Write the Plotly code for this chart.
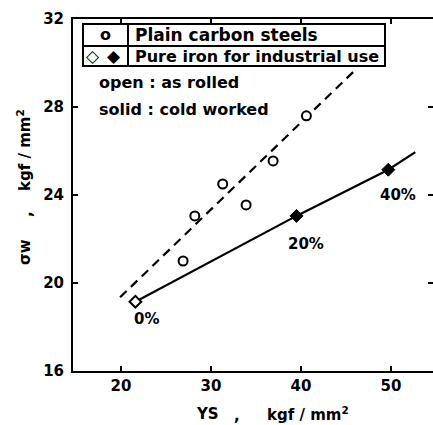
import plotly.graph_objects as go

# ---- data ----
carbon_ys = [26.9, 28.2, 31.3, 33.9, 36.9, 40.6]
carbon_sw = [21.0, 23.05, 24.5, 23.55, 25.55, 27.6]
carbon_fit_ys = [19.9, 46.2]
carbon_fit_sw = [19.35, 29.75]

iron_rolled_ys = [21.6]
iron_rolled_sw = [19.15]
iron_cold_ys = [39.5, 49.7]
iron_cold_sw = [23.05, 25.15]
iron_fit_ys = [21.6, 39.5, 49.7, 52.7]
iron_fit_sw = [19.15, 23.05, 25.15, 25.95]

pct_ys = [21.6, 39.5, 49.7]
pct_sw = [19.15, 23.05, 25.15]
pct_labels = ["0%", "20%", "40%"]

x_ticks = [20, 30, 40, 50]
y_ticks = [16, 20, 24, 28, 32]

W, H = 433, 425
L, R, T, B = 73, 0, 19, 54
PW, PH = W - L - R, H - T - B
FONT = "DejaVu Sans"
BLACK = "#000000"


def px(x):
    return (x - L) / PW


def py(y):
    return (H - B - y) / PH


fig = go.Figure()

fig.add_trace(go.Scatter(x=carbon_fit_ys, y=carbon_fit_sw, mode="lines",
                         line=dict(color=BLACK, width=2.2, dash="9px,6px"),
                         showlegend=False, hoverinfo="skip"))
fig.add_trace(go.Scatter(x=iron_fit_ys, y=iron_fit_sw, mode="lines",
                         line=dict(color=BLACK, width=2.2),
                         showlegend=False, hoverinfo="skip"))
fig.add_trace(go.Scatter(x=carbon_ys, y=carbon_sw, mode="markers",
                         marker=dict(symbol="circle", size=9, color="white",
                                     line=dict(color=BLACK, width=2)),
                         showlegend=False))
fig.add_trace(go.Scatter(x=iron_rolled_ys, y=iron_rolled_sw, mode="markers",
                         marker=dict(symbol="diamond", size=9, color="white",
                                     line=dict(color=BLACK, width=2)),
                         showlegend=False))
fig.add_trace(go.Scatter(x=iron_cold_ys, y=iron_cold_sw, mode="markers",
                         marker=dict(symbol="diamond", size=10, color=BLACK,
                                     line=dict(color=BLACK, width=1)),
                         showlegend=False))
# invisible trace to drive right-side ticks
fig.add_trace(go.Scatter(x=[None], y=[None], yaxis="y2", showlegend=False))

font = dict(family=FONT, size=15, color=BLACK, weight="bold")

annotations = []
shifts = [(11, -17), (9, -28), (10, -25)]
for xv, yv, lab, (dx, dy) in zip(pct_ys, pct_sw, pct_labels, shifts):
    annotations.append(dict(x=xv, y=yv, xref="x", yref="y", text=lab,
                            showarrow=False, xshift=dx, yshift=dy,
                            font=font, xanchor="center", yanchor="middle"))


def txt(x, y, s, xanchor="left", size=15, angle=0):
    annotations.append(dict(x=px(x), y=py(y), xref="paper", yref="paper",
                            text=s, showarrow=False, xanchor=xanchor,
                            yanchor="middle", textangle=angle,
                            font=dict(family=FONT, size=size, color=BLACK,
                                      weight="bold")))


# legend table text
txt(105, 35, "o", xanchor="center", size=16)
txt(93, 56, "◇", xanchor="center", size=17)
txt(114, 56, "◆", xanchor="center", size=17)
txt(133, 35, "Plain carbon steels", size=17)
txt(133, 56, "Pure iron for industrial use", size=16)
txt(97, 83, "open : as rolled", size=16)
txt(97, 109, "solid : cold worked", size=16)

# axis titles (pieces placed to match the reference spacing)
txt(207, 414, "YS", xanchor="center")
txt(237, 416, ",", xanchor="center")
txt(308, 414, "kgf / mm<sup>2</sup>", xanchor="center")
txt(25, 252, "σw", xanchor="center", angle=-90)
txt(27, 214, ",", xanchor="center", angle=-90)
txt(24, 150, "kgf / mm<sup>2</sup>", xanchor="center", angle=-90)

shapes = []
lw = dict(color=BLACK, width=2)
shapes.append(dict(type="rect", xref="paper", yref="paper",
                   x0=px(83), x1=px(385), y0=py(24), y1=py(66), line=lw))
shapes.append(dict(type="line", xref="paper", yref="paper",
                   x0=px(83), x1=px(385), y0=py(46), y1=py(46), line=lw))
shapes.append(dict(type="line", xref="paper", yref="paper",
                   x0=px(128), x1=px(128), y0=py(24), y1=py(66), line=lw))

x0 = 20 - (121 - L) / 9.0
x1 = x0 + PW / 9.0

fig.update_layout(
    width=W, height=H,
    margin=dict(l=L, r=R, t=T, b=B, pad=0),
    paper_bgcolor="white", plot_bgcolor="white",
    font=font,
    showlegend=False,
    annotations=annotations,
    shapes=shapes,
    xaxis=dict(range=[x0, x1], tickvals=x_ticks, ticks="inside", ticklen=5,
               tickwidth=2, tickcolor=BLACK, showline=True, linewidth=2,
               linecolor=BLACK, mirror="ticks", showgrid=False, zeroline=False,
               tickfont=font),
    yaxis=dict(range=[16, 32], tickvals=y_ticks, ticks="inside", ticklen=5,
               tickwidth=2, tickcolor=BLACK, showline=True, linewidth=2,
               linecolor=BLACK, showgrid=False, zeroline=False,
               tickfont=font, ticklabelstandoff=4),
    yaxis2=dict(range=[16, 32], tickvals=y_ticks, ticks="inside", ticklen=5,
                tickwidth=2, tickcolor=BLACK, showline=False, overlaying="y",
                side="right", showticklabels=False, showgrid=False,
                zeroline=False),
)

fig.write_html("out.html")
